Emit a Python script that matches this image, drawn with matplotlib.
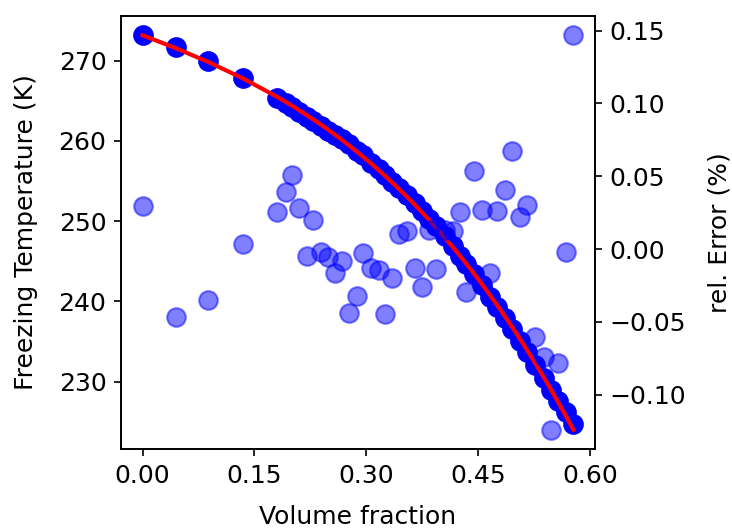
import numpy as np
import matplotlib
matplotlib.use("Agg")
import matplotlib.pyplot as plt
from matplotlib.ticker import MultipleLocator, FormatStrFormatter

# volume fraction of the samples
vol_frac = [0.0, 0.0444, 0.0884, 0.1351, 0.1804, 0.1924, 0.2004, 0.2097,
            0.2204, 0.2284, 0.2391, 0.2484, 0.2577, 0.2671, 0.2764, 0.2871,
            0.2951, 0.3057, 0.3164, 0.3257, 0.3351, 0.3444, 0.3551, 0.3657,
            0.3751, 0.3844, 0.3937, 0.4057, 0.4164, 0.4257, 0.4337, 0.4444,
            0.4551, 0.4657, 0.4751, 0.4857, 0.4951, 0.5057, 0.5151, 0.5257,
            0.5377, 0.5471, 0.5564, 0.5671, 0.5777]

# measured freezing temperature (K)
t_freeze = [273.15, 271.7, 270.0, 267.8, 265.4, 264.7, 264.2, 263.6,
            263.0, 262.5, 261.8, 261.2, 260.7, 260.2, 259.6, 258.8,
            258.2, 257.3, 256.5, 255.7, 254.9, 254.1, 253.2, 252.3,
            251.3, 250.3, 249.4, 248.1, 246.9, 245.7, 244.7, 243.4,
            242.0, 240.6, 239.3, 237.9, 236.6, 235.1, 233.7, 232.1,
            230.4, 228.9, 227.6, 226.2, 224.7]

# relative error of the fit (%)
rel_err = [0.0295, -0.0467, -0.035, 0.0034, 0.0254, 0.0391, 0.0508, 0.0281,
           -0.0048, 0.0199, -0.0021, -0.0055, -0.0165, -0.0082, -0.0439, -0.0323,
           -0.0027, -0.0130, -0.0144, -0.0446, -0.0199, 0.0103, 0.0124, -0.0130,
           -0.0261, 0.0130, -0.0137, 0.0130, 0.0124, 0.0254, -0.0295, 0.0535,
           0.0268, -0.0165, 0.0261, 0.0405, 0.0673, 0.0220, 0.0302, -0.0604,
           -0.0741, -0.1242, -0.0782, -0.0021, 0.1469]

plt.rcParams["font.size"] = 12

x = np.array(vol_frac)
T = np.array(t_freeze)
coef = np.polyfit(x, T, 3)
T_fit = np.polyval(coef, x)

fig = plt.figure(figsize=(4.88, 3.52), dpi=150)
ax = fig.add_axes([0.1653, 0.1487, 0.6475, 0.8219])

ax.scatter(x, T, s=80, color="b", zorder=2)
ax.plot(x, T_fit, color="r", linewidth=2, zorder=3)
ax.set_xlabel("Volume fraction", labelpad=8)
ax.set_ylabel("Freezing Temperature (K)", labelpad=10)
ax.xaxis.set_major_locator(MultipleLocator(0.15))
ax.xaxis.set_major_formatter(FormatStrFormatter("%.2f"))

ax2 = ax.twinx()
ax2.scatter(x, rel_err, s=80, color="b", alpha=0.5)
ax2.set_ylabel("rel. Error (%)", labelpad=10)

fig.savefig("out.png", dpi=150)
